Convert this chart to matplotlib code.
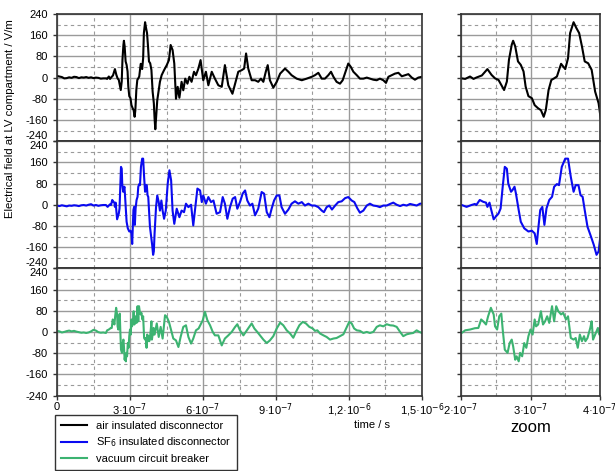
import numpy as np
import matplotlib
matplotlib.use("Agg")
import matplotlib.pyplot as plt
from matplotlib.ticker import FixedLocator
from matplotlib.lines import Line2D

plt.rcParams['font.family'] = ['Liberation Sans', 'DejaVu Sans']
plt.rcParams['font.size'] = 8

# --- data (time in ns, field in V/m) ---
t_air = [0, 10, 20, 30, 40, 50, 60, 70, 80, 90, 100, 110, 120, 130, 140, 150, 160, 170, 180, 190,
         201, 206, 213, 218, 222, 230, 238, 244, 249, 254, 258, 262, 266, 269, 273, 275, 278, 282,
         286, 290, 293, 297, 302, 306, 311, 315, 319, 322, 326, 330, 334, 338, 344, 350, 354, 357,
         362, 366, 370, 374, 378, 383, 388, 393, 398, 401, 404, 412, 423, 430, 440, 451, 460, 467,
         475, 482, 489, 496, 503, 512, 519, 527, 536, 544, 553, 563, 571, 581, 590, 601, 612, 622,
         636, 649, 663, 677, 690, 704, 721, 732, 745, 759, 769, 777, 786, 800, 814, 827, 838, 848,
         858, 866, 875, 889, 903, 917, 937, 951, 964, 985, 1006, 1026, 1047, 1060, 1074, 1088, 1101,
         1115, 1126, 1136, 1149, 1163, 1174, 1188, 1197, 1207, 1218, 1232, 1245, 1259, 1273, 1286,
         1300, 1314, 1327, 1341, 1352, 1362, 1375, 1389, 1403, 1417, 1430, 1444, 1458, 1471, 1485,
         1500]
e_air = [6, 4, 2, -3, -2, 1, -1, 3, 2, -2, 1, 0, 2, -1, 1, -2, 0, -1, -4, -3,
         -3, -5, 4, -5, 0, 8, 32, 10, -3, -9, -28, -47, -15, 67, 124, 139, 118, 61,
         48, 23, -34, -70, -78, -104, -116, -123, -148, -123, -47, -9, -3, 4, 52, 32, 73, 168,
         209, 187, 168, 118, 61, 54, 29, -53, -97, -154, -195, -86, -16, 9, 28, 47, 66, 123,
         104, 53, -80, -35, -76, -16, -48, -4, -23, 3, -16, 22, 9, 34, 66, -10, 22, -29,
         22, -4, -29, -35, 47, -29, -61, -23, 22, 28, 34, 91, 34, -10, -10, -16, -4, -16,
         22, 47, -10, -38, -16, 15, 34, 22, 9, -4, -10, -4, 3, 9, 18, -4, -4,
         9, 22, 3, -16, -23, -10, 28, 53, 41, 22, 9, -4, -4, 0, -4,
         -8, -10, -4, -10, -20, 3, 9, 15, 18, 5, 9, 13, 0, -8, 0,
         3]

t_sf6 = [0, 10, 20, 30, 40, 50, 60, 70, 80, 90, 100, 110, 120, 130, 140, 150, 160, 170, 180, 190,
         201, 208, 215, 220, 222, 227, 232, 236, 238, 241, 243, 247, 250, 254, 257, 260, 263, 266,
         268, 272, 274, 277, 279, 283, 286, 291, 297, 302, 306, 309, 311, 314, 317, 320, 323, 327,
         331, 334, 338, 341, 345, 350, 354, 358, 362, 365, 369, 372, 375, 378, 382, 387, 391, 395,
         398, 401, 407, 412, 418, 423, 429, 434, 440, 447, 455, 462, 469, 475, 482, 492, 503, 512,
         522, 530, 540, 551, 560, 570, 577, 588, 595, 601, 612, 622, 633, 643, 656, 670, 681, 690,
         700, 711, 722, 732, 741, 752, 763, 773, 782, 793, 803, 814, 827, 841, 851, 862, 873, 882,
         892, 903, 914, 923, 937, 951, 964, 978, 992, 1006, 1019, 1033, 1047, 1060, 1074, 1088,
         1097, 1108, 1119, 1130, 1143, 1156, 1170, 1184, 1197, 1211, 1222, 1234, 1245, 1259, 1273,
         1286, 1300, 1314, 1327, 1341, 1355, 1369, 1382, 1396, 1410, 1423, 1437, 1451, 1464, 1478,
         1492, 1500]
e_sf6 = [-3, -5, -2, -4, -6, -3, -4, -2, -3, -5, -2, -1, -3, 0, 2, -3, -1, -4, -2, -1,
         -1, -8, -1, 3, -1, 18, 11, 8, -8, 8, -14, -55, -45, -33, -14, 68, 143, 136,
         80, 49, 55, 68, 43, -20, -64, -89, -101, -98, -108, -148, -95, -20, -8, -76, -14, 18,
         30, 68, 78, 74, 143, 174, 174, 105, 49, 74, 74, 36, 30, -20, -83, -120, -151, -189,
         -176, -108, -9, 35, 10, -22, 16, -22, -53, -22, 80, 130, 92, -22, -72, -15, -47, -22,
         -28, 4, -9, 0, -78, 4, 61, 54, 10, 35, 4, 29, 10, 16, -34, -28, 29, 4,
         -53, -9, 23, 29, -15, 10, 42, 54, 16, -3, 4, -40, -15, 48, 42, -28, -47, -15,
         16, 35, 35, -9, -34, -18, 4, 13, 4, 10, -3, 4, -3, -3, -9, -22,
         -28, -9, -3, -18, -3, 10, 13, 25, 29, 16, 10, -13, -30, -22, -3,
         4, -3, -5, -9, -3, -3, 3, 8, 0, -5, 0, -3, 3, 0, -3,
         4, 4]

t_vcb = [0, 10, 20, 30, 40, 50, 60, 70, 80, 90, 100, 110, 120, 130, 140, 150, 160, 170, 180, 190,
         201, 206, 213, 220, 225, 229, 232, 236, 239, 243, 247, 249, 252, 255, 258, 260, 263, 267,
         270, 273, 275, 278, 280, 283, 285, 288, 291, 294, 297, 300, 303, 306, 308, 311, 315, 318,
         321, 324, 327, 331, 334, 337, 340, 344, 347, 351, 354, 358, 362, 365, 368, 371, 374, 377,
         379, 382, 386, 388, 390, 394, 397, 399, 401, 410, 418, 426, 434, 444, 451, 460, 469, 478,
         489, 499, 508, 519, 530, 540, 551, 560, 571, 582, 599, 608, 618, 629, 640, 649, 663, 677,
         690, 704, 718, 732, 741, 752, 766, 780, 790, 800, 811, 823, 834, 848, 862, 875, 889, 903,
         917, 930, 944, 958, 971, 982, 996, 1010, 1023, 1037, 1051, 1060, 1070, 1081, 1095, 1108,
         1122, 1136, 1149, 1163, 1177, 1191, 1201, 1211, 1221, 1232, 1245, 1259, 1273, 1286, 1300,
         1314, 1327, 1341, 1355, 1369, 1382, 1396, 1410, 1423, 1437, 1451, 1464, 1478, 1489, 1500]
e_vcb = [4, 2, -2, 0, 3, 5, 2, 4, 1, -1, -3, -2, -4, -2, 2, 8, 5, -1, -3, -2,
         -4, 6, 9, 14, 15, 47, 40, 28, 59, 91, 66, 21, 9, 59, 69, 9, -67, -79,
         -42, -29, -54, -105, -92, -111, -79, -92, -42, -60, -16, 9, -10, 47, 21, 28, 78, 28,
         40, 59, 34, 97, 40, 97, 78, 66, 72, 47, 59, -23, -29, -23, -60, -10, -35, -16,
         -35, -23, 15, 40, -29, -4, 15, -10, -10, 32, -19, 19, -25, 63, 57, 38, 6, -25,
         -32, -57, -19, 19, 25, -19, -44, -25, 6, 13, 44, 76, 44, 25, 0, -13, -13, -51,
         -25, -13, 0, 19, 29, 6, -13, 6, 19, 32, 13, 0, -13, -29, -42, -32, -16, 13,
         35, 25, 6, -6, -22, 0, 25, 38, 32, 19, 13, 4, 6, -6, -13, -19,
         -29, -25, -23, -16, -9, 19, 38, 32, 13, 6, 4, -4, 0, -4, 0,
         19, 25, 21, 29, 25, 24, 19, 0, -16, -9, -6, -4, 6, 0, -4]

series = [
    ("air insulated disconnector", t_air, e_air, "black"),
    ("SF$_6$ insulated disconnector", t_sf6, e_sf6, "#0a0af0"),
    ("vacuum circuit breaker", t_vcb, e_vcb, "#3cb371"),
]

y_major = [-240, -160, -80, 0, 80, 160, 240]
y_minor = [-200, -120, -40, 40, 120, 200]
x_main_major = [0, 3e-7, 6e-7, 9e-7, 1.2e-6, 1.5e-6]
x_main_labels = ["0", "3·10$^{-7}$", "6·10$^{-7}$", "9·10$^{-7}$", "1,2·10$^{-6}$", "1,5·10$^{-6}$"]
x_main_minor = [1.5e-7, 4.5e-7, 7.5e-7, 1.05e-6, 1.35e-6]
x_zoom_major = [2e-7, 3e-7, 4e-7]
x_zoom_labels = ["2·10$^{-7}$", "3·10$^{-7}$", "4·10$^{-7}$"]
x_zoom_minor = [2.5e-7, 3.5e-7]


def style_axes(ax, xmaj, xmin, xlim):
    ax.set_xlim(*xlim)
    ax.set_ylim(-240, 240)
    ax.xaxis.set_major_locator(FixedLocator(xmaj))
    ax.xaxis.set_minor_locator(FixedLocator(xmin))
    ax.yaxis.set_major_locator(FixedLocator(y_major))
    ax.yaxis.set_minor_locator(FixedLocator(y_minor))
    ax.grid(True, which="major", color="#9a9a9a", lw=1.0, ls="-")
    ax.grid(True, which="minor", color="#9a9a9a", lw=0.8, ls=(0, (3, 3)))
    ax.tick_params(which="minor", length=0)
    ax.tick_params(which="major", direction="out", length=3, width=1, color="#333333")
    ax.tick_params(axis="x", which="major", pad=1.5)
    for s in ax.spines.values():
        s.set_color("#333333")
        s.set_linewidth(1.2)
    ax.set_axisbelow(True)


fig = plt.figure(figsize=(6.15, 4.71), dpi=100)
W, H = 615.0, 471.0
top, bottom = 14, 395.5
row_h = (bottom - top) / 3

for i, (name, t, e, col) in enumerate(series):
    y0 = 1 - (top + (i + 1) * row_h) / H
    h = row_h / H
    ax = fig.add_axes([57 / W, y0, (422 - 57) / W, h])
    az = fig.add_axes([461 / W, y0, (600 - 461) / W, h])
    ts = np.array(t) * 1e-9
    ax.plot(ts, e, color=col, lw=1.5)
    az.plot(ts, e, color=col, lw=1.5)
    style_axes(ax, x_main_major, x_main_minor, (0, 1.5e-6))
    style_axes(az, x_zoom_major, x_zoom_minor, (2e-7, 4e-7))
    ax.set_yticklabels([str(v) for v in y_major])
    az.set_yticklabels([])
    if i == 2:
        ax.set_xticklabels(x_main_labels)
        az.set_xticklabels(x_zoom_labels)
    else:
        ax.tick_params(axis="x", which="major", length=0, labelbottom=False)
        az.tick_params(axis="x", which="major", length=0, labelbottom=False)
    labs = ax.get_yticklabels()
    if i > 0:
        labs[-1].set_va("top")
    if i < 2:
        labs[0].set_va("bottom")

fig.text(10 / W, 1 - 119 / H, "Electrical field at LV compartment / V/m",
         rotation=90, ha="center", va="center", fontsize=8.2)
fig.text(372 / W, 1 - 425 / H, "time / s", ha="center", va="center", fontsize=8)
fig.text(531 / W, 1 - 428 / H, "zoom", ha="center", va="center", fontsize=12)

handles = [Line2D([], [], color=c, lw=1.5) for _, _, _, c in series]
leg = fig.legend(handles, [s[0] for s in series], loc="upper left",
                 bbox_to_anchor=(55 / W, 1 - 415 / H), frameon=True, fancybox=False,
                 edgecolor="black", fontsize=8, handlelength=2.4, borderpad=0.5,
                 labelspacing=0.45, borderaxespad=0)
leg.get_frame().set_linewidth(1.0)

fig.savefig("out.png", dpi=100)
